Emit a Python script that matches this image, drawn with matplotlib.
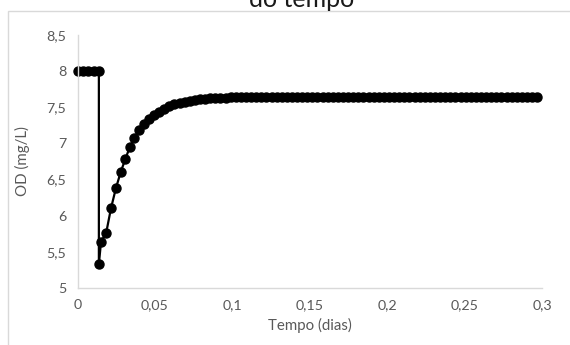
import matplotlib
matplotlib.use("Agg")
import matplotlib.pyplot as plt
from matplotlib.patches import Rectangle

# Data
tempo = [0.0, 0.0035, 0.0070, 0.0104, 0.0138, 0.0138, 0.0152, 0.0185, 0.0216, 0.0248,
         0.0280, 0.0310, 0.0338, 0.0365, 0.0398, 0.0428, 0.0461, 0.0494, 0.0527, 0.0560,
         0.0593, 0.0626, 0.0659, 0.0692, 0.0725, 0.0758, 0.0791, 0.0824, 0.0857, 0.0890,
         0.0923, 0.0956, 0.0989, 0.1022, 0.1055, 0.1088, 0.1121, 0.1154, 0.1187, 0.1220,
         0.1253, 0.1286, 0.1319, 0.1352, 0.1385, 0.1418, 0.1451, 0.1484, 0.1517, 0.1550,
         0.1583, 0.1616, 0.1649, 0.1682, 0.1715, 0.1748, 0.1781, 0.1814, 0.1847, 0.1880,
         0.1913, 0.1946, 0.1979, 0.2012, 0.2045, 0.2078, 0.2111, 0.2144, 0.2177, 0.2210,
         0.2243, 0.2276, 0.2309, 0.2342, 0.2375, 0.2408, 0.2441, 0.2474, 0.2507, 0.2540,
         0.2573, 0.2606, 0.2639, 0.2672, 0.2705, 0.2738, 0.2771, 0.2804, 0.2837, 0.2870,
         0.2903, 0.2936, 0.2969]
od = [8.0, 8.0, 8.0, 8.0, 8.0, 5.33, 5.64, 5.76, 6.10, 6.38,
      6.61, 6.79, 6.95, 7.07, 7.18, 7.27, 7.34, 7.40, 7.44, 7.48,
      7.52, 7.545, 7.565, 7.58, 7.59, 7.60, 7.61, 7.618, 7.623, 7.628,
      7.631, 7.634, 7.636, 7.638, 7.640, 7.641, 7.642, 7.643, 7.644, 7.645,
      7.645, 7.645, 7.645, 7.645, 7.645, 7.645, 7.645, 7.645, 7.645, 7.645,
      7.645, 7.645, 7.645, 7.645, 7.645, 7.645, 7.645, 7.645, 7.645, 7.645,
      7.645, 7.645, 7.645, 7.645, 7.645, 7.645, 7.645, 7.645, 7.645, 7.645,
      7.645, 7.645, 7.645, 7.645, 7.645, 7.645, 7.645, 7.645, 7.645, 7.645,
      7.645, 7.645, 7.645, 7.645, 7.645, 7.645, 7.645, 7.645, 7.645, 7.645,
      7.645, 7.645, 7.645]

xticks = [0, 0.05, 0.1, 0.15, 0.2, 0.25, 0.3]
xticklabels = ["0", "0,05", "0,1", "0,15", "0,2", "0,25", "0,3"]
yticks = [5, 5.5, 6, 6.5, 7, 7.5, 8, 8.5]
yticklabels = ["5", "5,5", "6", "6,5", "7", "7,5", "8", "8,5"]

plt.rcParams['font.family'] = ['Lato', 'DejaVu Sans']

fig = plt.figure(figsize=(5.7, 3.45), dpi=100)
fig.patch.set_facecolor('white')

# chart area border (extends beyond the image on right and bottom)
fig.patches.append(Rectangle((8 / 570, -0.2), 1.2, 0.2 + (1 - 11 / 345),
                             transform=fig.transFigure, fill=False,
                             edgecolor='#d9d9d9', linewidth=1.0))

ax = fig.add_axes([77.5 / 570, 1 - 288 / 345, (542 - 77.5) / 570, (288 - 35) / 345])
ax.plot(tempo, od, color='black', linewidth=1.6, marker='o', markersize=6.5,
        markerfacecolor='black', markeredgecolor='black', clip_on=False)

ax.set_xlim(0, 0.3)
ax.set_ylim(5, 8.5)
ax.set_xticks(xticks)
ax.set_xticklabels(xticklabels)
ax.set_yticks(yticks)
ax.set_yticklabels(yticklabels)
ax.tick_params(axis='both', length=0, labelsize=10.3, colors='#595959', pad=8)
for s in ['top', 'right']:
    ax.spines[s].set_visible(False)
for s in ['left', 'bottom']:
    ax.spines[s].set_color('#d9d9d9')
    ax.spines[s].set_linewidth(1.0)

ax.set_xlabel("Tempo (dias)", fontsize=10.8, color='#595959', labelpad=5)
ax.set_ylabel("OD (mg/L)", fontsize=10.8, color='#595959', labelpad=12)

fig.text(302 / 570, 1 - 7 / 345, "do tempo", fontsize=18, color='#1a1a1a',
         ha='center', va='baseline')

fig.savefig("out.png", dpi=100, facecolor='white')
